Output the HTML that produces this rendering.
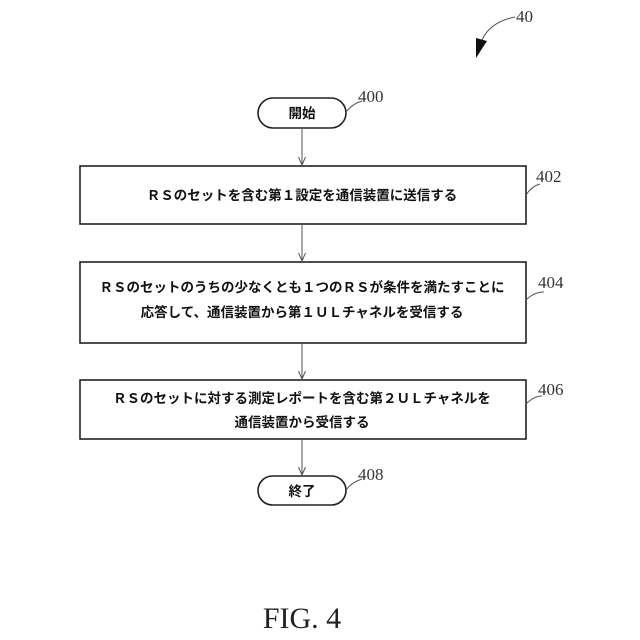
<!DOCTYPE html>
<html><head><meta charset="utf-8"><style>
html,body{margin:0;padding:0;background:#fff;}
svg{display:block}
.t{font-family:"Liberation Sans","Noto Sans CJK JP",sans-serif;font-weight:bold;font-size:13.5px;fill:#111}
.n{font-family:"Liberation Serif",serif;font-size:17px;fill:#333}
</style></head><body>
<svg width="640" height="640" viewBox="0 0 640 640">
<g fill="none" stroke="#222" stroke-width="1.6">
<rect x="258" y="98" width="88" height="30" rx="15"/>
<rect x="80" y="166" width="446" height="58"/>
<rect x="80" y="262" width="446" height="81"/>
<rect x="80" y="380" width="446" height="59"/>
<rect x="258" y="476" width="88" height="29" rx="14.5"/>
</g>
<g stroke="#555" stroke-width="1" fill="none">
<line x1="302" y1="128" x2="302" y2="165"/><path d="M298.5 157 L302 165 L305.5 157"/>
<line x1="302" y1="224" x2="302" y2="261"/><path d="M298.5 253 L302 261 L305.5 253"/>
<line x1="302" y1="343" x2="302" y2="379"/><path d="M298.5 371 L302 379 L305.5 371"/>
<line x1="302" y1="439" x2="302" y2="475"/><path d="M298.5 467 L302 475 L305.5 467"/>
<path d="M346 112 Q352 104 362 101"/>
<path d="M526 195 Q532 186 540 184"/>
<path d="M526 300 Q534 292 544 292"/>
<path d="M526 404 Q534 396 542 396"/>
<path d="M346 490 Q352 482 362 479"/>
<path d="M515 17 Q490 22 482 40"/>
</g>
<path d="M476 38 L487 41 L476 58 Z" fill="#111"/>
<text class="t" x="302" y="118" text-anchor="middle">開始</text>
<text class="t" x="302" y="200" text-anchor="middle">ＲＳのセットを含む第１設定を通信装置に送信する</text>
<text class="t" x="302" y="292" text-anchor="middle">ＲＳのセットのうちの少なくとも１つのＲＳが条件を満たすことに</text>
<text class="t" x="302" y="317" text-anchor="middle">応答して、通信装置から第１ＵＬチャネルを受信する</text>
<text class="t" x="302" y="403" text-anchor="middle">ＲＳのセットに対する測定レポートを含む第２ＵＬチャネルを</text>
<text class="t" x="302" y="427" text-anchor="middle">通信装置から受信する</text>
<text class="t" x="302" y="496" text-anchor="middle">終了</text>
<text class="n" x="358" y="102">400</text>
<text class="n" x="536" y="182">402</text>
<text class="n" x="538" y="288">404</text>
<text class="n" x="538" y="395">406</text>
<text class="n" x="358" y="480">408</text>
<text class="n" x="516" y="22">40</text>
<text x="302" y="628" text-anchor="middle" style="font-family:'Liberation Serif',serif;font-size:30px;fill:#222">FIG. 4</text>
</svg>
</body></html>
